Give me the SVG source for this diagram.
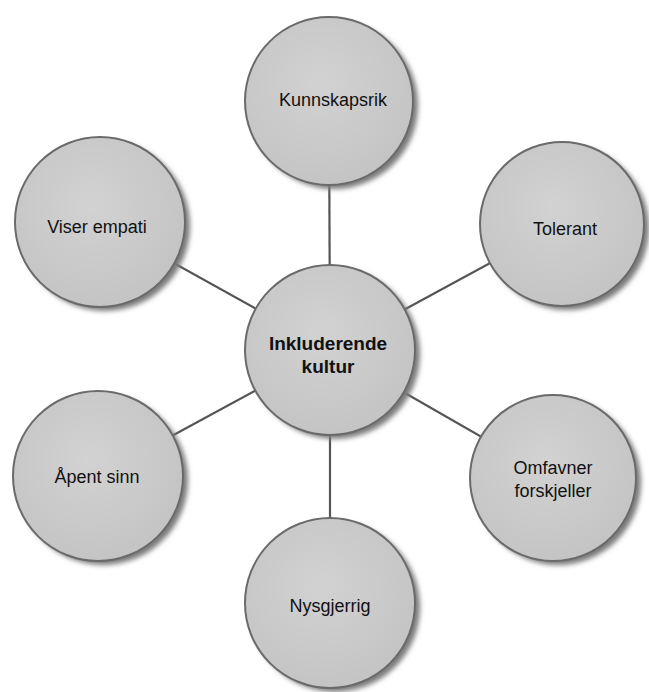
<svg xmlns="http://www.w3.org/2000/svg" width="649" height="692" viewBox="0 0 649 692">
<defs>
<filter id="sh" x="-20%" y="-20%" width="150%" height="150%">
<feGaussianBlur stdDeviation="2.5"/>
</filter>
<radialGradient id="g" cx="45%" cy="40%" r="65%">
<stop offset="0" stop-color="#d2d2d2"/>
<stop offset="1" stop-color="#c3c3c3"/>
</radialGradient>
</defs>
<style>
.shadow{fill:#7a7a7a;filter:url(#sh)}
.c{fill:url(#g);stroke:#6a6a6a;stroke-width:2}
.t{font-family:"Liberation Sans",Arial,sans-serif;font-size:18px;fill:#111;text-anchor:middle}
.b{font-weight:bold;font-size:19px}
.l{stroke:#555;stroke-width:2.2}
</style>
<rect width="649" height="692" fill="#fff"/>
<g id="connectors">
<line class="l" x1="330" y1="350" x2="329" y2="101"/>
<line class="l" x1="330" y1="350" x2="562" y2="224"/>
<line class="l" x1="330" y1="350" x2="100" y2="222"/>
<line class="l" x1="330" y1="350" x2="98" y2="476"/>
<line class="l" x1="330" y1="350" x2="553" y2="478"/>
<line class="l" x1="330" y1="350" x2="330" y2="603"/>
</g>
<g id="kunnskapsrik">
<circle class="shadow" cx="334" cy="105" r="84"/>
<circle class="c" cx="329" cy="101" r="84"/>
<text class="t" x="333" y="106">Kunnskapsrik</text>
</g>
<g id="tolerant">
<circle class="shadow" cx="567" cy="228" r="82"/>
<circle class="c" cx="562" cy="224" r="82"/>
<text class="t" x="565" y="235">Tolerant</text>
</g>
<g id="viser-empati">
<circle class="shadow" cx="105" cy="226" r="85"/>
<circle class="c" cx="100" cy="222" r="85"/>
<text class="t" x="97" y="233">Viser empati</text>
</g>
<g id="inkluderende-kultur">
<circle class="shadow" cx="335" cy="354" r="85"/>
<circle class="c" cx="330" cy="350" r="85"/>
<text class="t b" x="328" y="350">Inkluderende</text>
<text class="t b" x="328" y="373">kultur</text>
</g>
<g id="apent-sinn">
<circle class="shadow" cx="103" cy="480" r="85"/>
<circle class="c" cx="98" cy="476" r="85"/>
<text class="t" x="97" y="483">Åpent sinn</text>
</g>
<g id="omfavner-forskjeller">
<circle class="shadow" cx="558" cy="482" r="83"/>
<circle class="c" cx="553" cy="478" r="83"/>
<text class="t" x="553" y="474">Omfavner</text>
<text class="t" x="553" y="497">forskjeller</text>
</g>
<g id="nysgjerrig">
<circle class="shadow" cx="335" cy="607" r="85"/>
<circle class="c" cx="330" cy="603" r="85"/>
<text class="t" x="330" y="612">Nysgjerrig</text>
</g>
</svg>
